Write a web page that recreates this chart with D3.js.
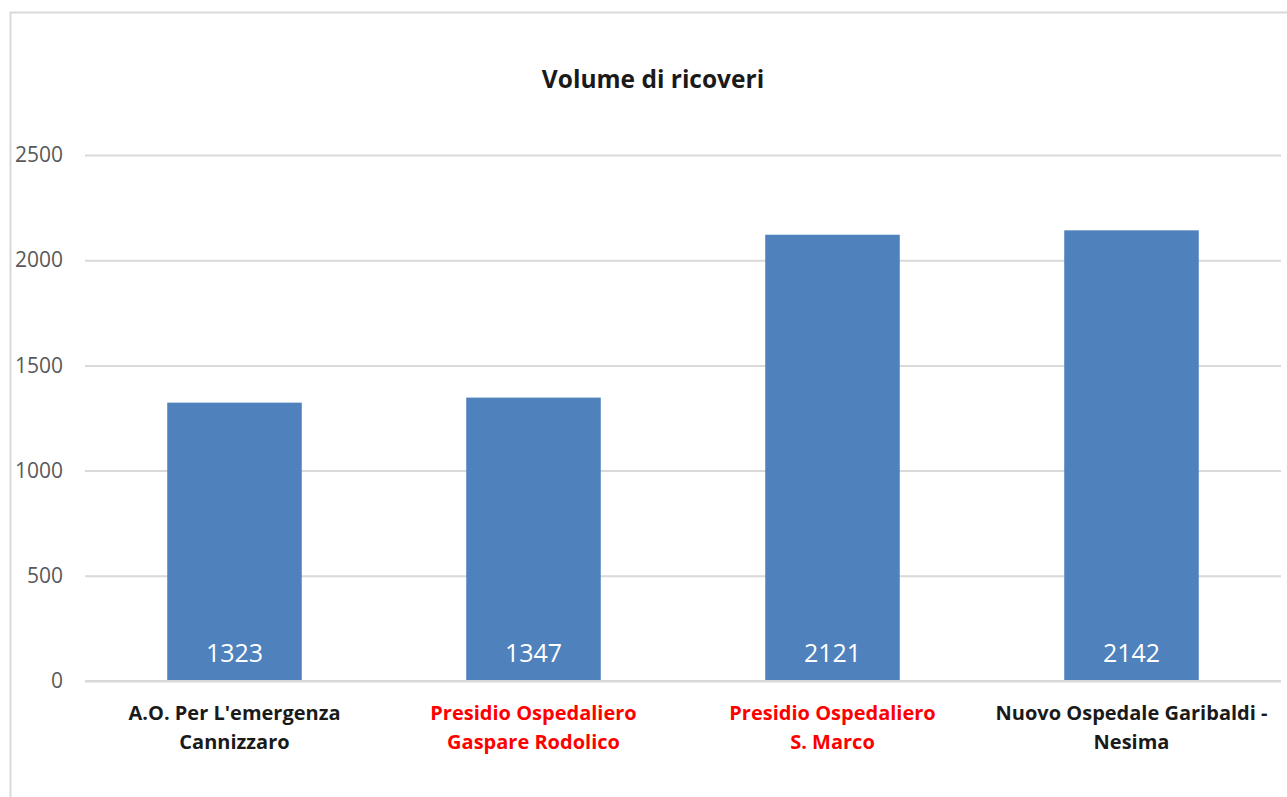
<!DOCTYPE html>
<html>
<head>
<meta charset="utf-8">
<script src="https://cdn.jsdelivr.net/npm/d3@7"></script>
<style>
  html, body { margin: 0; padding: 0; background: #fff; }
  svg { display: block; }
</style>
</head>
<body>
<svg id="chart" width="1287" height="797"></svg>
<script>
const title = "Volume di ricoveri";
const categories = [
  ["A.O. Per L'emergenza", "Cannizzaro"],
  ["Presidio Ospedaliero", "Gaspare Rodolico"],
  ["Presidio Ospedaliero", "S. Marco"],
  ["Nuovo Ospedale Garibaldi -", "Nesima"]
];
const highlighted = [false, true, true, false];
const values = [1323, 1347, 2121, 2142];
const yTicks = [0, 500, 1000, 1500, 2000, 2500];

const svg = d3.select("#chart");
const W = 1287, H = 797;
const margin = { left: 85, right: 6, top: 155, bottom: 116 };
const font = "'Open Sans', Lato, sans-serif";

// outer chart frame (cropped on right and bottom)
svg.append("rect")
  .attr("x", 10.5).attr("y", 12.5)
  .attr("width", W + 20).attr("height", H + 20)
  .attr("fill", "#fff").attr("stroke", "#d9d9d9").attr("stroke-width", 2);

const x = d3.scaleBand()
  .domain(d3.range(categories.length))
  .range([margin.left, W - margin.right])
  .paddingInner(0.55).paddingOuter(0.275);

const y = d3.scaleLinear()
  .domain([0, 2500])
  .range([H - margin.bottom, margin.top]);

// gridlines
svg.append("g")
  .attr("transform", `translate(${margin.left},0)`)
  .call(d3.axisLeft(y).tickValues(yTicks).tickSize(-(W - margin.right - margin.left)).tickFormat(""))
  .call(g => g.select(".domain").remove())
  .call(g => g.selectAll("line").attr("stroke", "#d9d9d9").attr("stroke-width", 2));

// y tick labels
svg.append("g")
  .attr("transform", `translate(63,0)`)
  .call(d3.axisLeft(y).tickValues(yTicks).tickSize(0).tickPadding(0).tickFormat(d3.format("d")))
  .call(g => g.select(".domain").remove())
  .call(g => g.selectAll("text")
    .attr("fill", "#595959")
    .attr("font-family", font)
    .attr("font-size", 21));

// bars
svg.append("g").selectAll("rect")
  .data(values)
  .join("rect")
  .attr("x", (d, i) => x(i))
  .attr("y", d => y(d))
  .attr("width", x.bandwidth())
  .attr("height", d => y(0) - y(d))
  .attr("fill", "#4f81bd");

// redraw baseline on top
svg.append("line")
  .attr("x1", margin.left).attr("x2", W - margin.right)
  .attr("y1", y(0)).attr("y2", y(0))
  .attr("stroke", "#d9d9d9").attr("stroke-width", 2);

// value labels
svg.append("g").selectAll("text")
  .data(values)
  .join("text")
  .attr("x", (d, i) => x(i) + x.bandwidth() / 2)
  .attr("y", y(0) - 19)
  .attr("text-anchor", "middle")
  .attr("fill", "#ffffff")
  .attr("font-family", font)
  .attr("font-size", 25)
  .text(d => d);

// category labels
const cat = svg.append("g").selectAll("text")
  .data(categories)
  .join("text")
  .attr("x", (d, i) => x(i) + x.bandwidth() / 2)
  .attr("y", y(0) + 39)
  .attr("text-anchor", "middle")
  .attr("font-family", font)
  .attr("font-weight", "bold")
  .attr("font-size", 20)
  .attr("fill", (d, i) => highlighted[i] ? "#ff0000" : "#1a1a1a");
cat.selectAll("tspan")
  .data(d => d)
  .join("tspan")
  .attr("x", function () { return d3.select(this.parentNode).attr("x"); })
  .attr("dy", (d, j) => j === 0 ? 0 : 29)
  .text(d => d);

// title
svg.append("text")
  .attr("x", 653).attr("y", 88)
  .attr("text-anchor", "middle")
  .attr("font-family", font)
  .attr("font-weight", "bold")
  .attr("font-size", 24.5)
  .attr("fill", "#1a1a1a")
  .text(title);
</script>
</body>
</html>
